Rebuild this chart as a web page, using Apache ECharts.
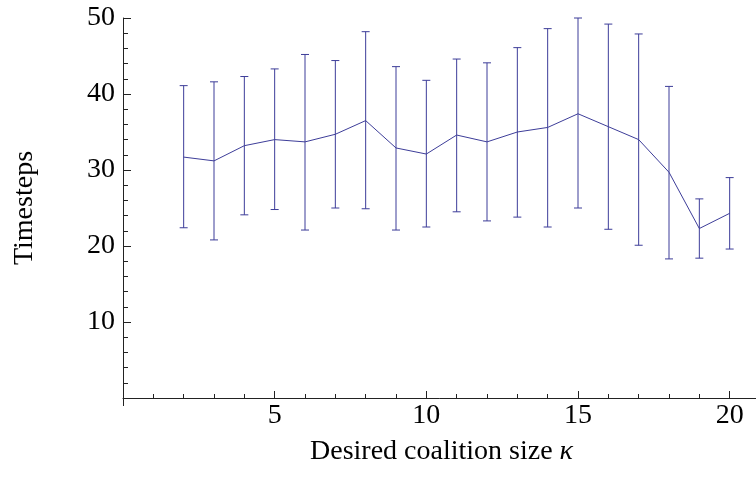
<!DOCTYPE html>
<html>
<head>
<meta charset="utf-8">
<script src="https://cdn.jsdelivr.net/npm/echarts@6/dist/echarts.min.js"></script>
<style>html,body{margin:0;padding:0;background:#fff}#c{width:756px;height:478px}</style>
</head>
<body>
<div id="c"></div>
<script>
const categories = [2,3,4,5,6,7,8,9,10,11,12,13,14,15,16,17,18,19,20];
const means = [31.7,31.2,33.2,34.0,33.7,34.7,36.5,32.9,32.1,34.6,33.7,35.0,35.6,37.4,35.7,34.0,29.7,22.3,24.3];
const upper = [41.1,41.6,42.3,43.3,45.2,44.4,48.2,43.6,41.8,44.6,44.1,46.1,48.6,50.0,49.2,47.9,41.0,26.2,29.0];
const lower = [22.4,20.8,24.1,24.8,22.1,25.0,24.9,22.1,22.5,24.5,23.3,23.8,22.5,25.0,22.2,20.1,18.3,18.4,19.6];
const xTickLabels = [5,10,15,20];
const yTickLabels = [10,20,30,40,50];

const COLOR = '#3d3d99';
const AXIS = '#222';
const FONT = 'Liberation Serif';
const FS = 28;

const chart = echarts.init(document.getElementById('c'), null, {renderer:'canvas'});
const baseX = {type:'value', min:0, max:21, position:'bottom', axisLine:{show:false, onZero:false}, splitLine:{show:false}, axisLabel:{show:false}};
chart.setOption({
  animation:false,
  backgroundColor:'#fff',
  grid:{left:123, width:637, top:18, height:380, containLabel:false, outerBoundsMode:'none'},
  xAxis:[
    Object.assign({}, baseX, {
      interval:5,
      axisLine:{show:true, onZero:false, lineStyle:{color:AXIS, width:1}},
      axisTick:{show:true, inside:true, length:7, lineStyle:{color:AXIS}},
      axisLabel:{show:true, margin:4, color:'#000', fontFamily:FONT, fontSize:FS,
        formatter:v=> xTickLabels.indexOf(v)>=0 ? String(v) : ''},
      name:'{a|Desired coalition size }{b|κ}',
      nameLocation:'middle', nameGap:40,
      nameTextStyle:{rich:{a:{fontFamily:FONT,fontSize:FS,color:'#000'},b:{fontFamily:FONT,fontSize:FS,fontStyle:'italic',color:'#000'}}}
    }),
    Object.assign({}, baseX, {interval:1, axisTick:{show:true, inside:true, length:4, lineStyle:{color:AXIS}}}),
    Object.assign({}, baseX, {interval:21, axisTick:{show:true, inside:false, length:8, lineStyle:{color:AXIS}}})
  ],
  yAxis:{
    type:'value', min:0, max:50, interval:10,
    axisLine:{show:true, onZero:false, lineStyle:{color:AXIS, width:1}},
    axisTick:{show:true, inside:true, length:8, lineStyle:{color:AXIS}},
    minorTick:{show:true, splitNumber:5, length:5, lineStyle:{color:AXIS}},
    splitLine:{show:false},
    axisLabel:{margin:8, color:'#000', fontFamily:FONT, fontSize:FS,
      formatter:v=> yTickLabels.indexOf(v)>=0 ? String(v) : ''},
    name:'Timesteps', nameLocation:'middle', nameGap:84, nameRotate:90,
    nameTextStyle:{fontFamily:FONT, fontSize:FS, color:'#000'}
  },
  series:[
    {type:'line', xAxisIndex:0, data:categories.map((c,i)=>[c,means[i]]), symbol:'none',
      lineStyle:{color:COLOR, width:1}, itemStyle:{color:COLOR}},
    {type:'custom', xAxisIndex:0, data:categories.map((c,i)=>[c,lower[i],upper[i]]),
      renderItem:function(params, api){
        const lo = api.coord([api.value(0), api.value(1)]);
        const hi = api.coord([api.value(0), api.value(2)]);
        const w = 4;
        const style = {stroke:COLOR, lineWidth:1, fill:null};
        return {type:'group', children:[
          {type:'line', shape:{x1:lo[0],y1:lo[1],x2:hi[0],y2:hi[1]}, style:style},
          {type:'line', shape:{x1:lo[0]-w,y1:lo[1],x2:lo[0]+w,y2:lo[1]}, style:style},
          {type:'line', shape:{x1:hi[0]-w,y1:hi[1],x2:hi[0]+w,y2:hi[1]}, style:style}
        ]};
      }, z:3}
  ]
});
</script>
</body>
</html>
